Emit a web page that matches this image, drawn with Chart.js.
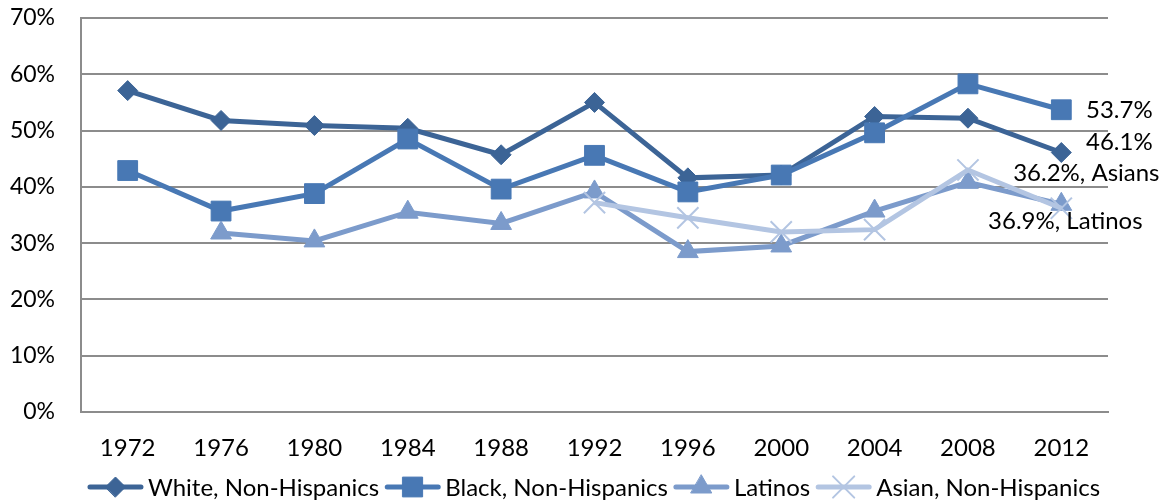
<!DOCTYPE html>
<html>
<head>
<meta charset="utf-8">
<script src="https://cdn.jsdelivr.net/npm/chart.js@4"></script>
<style>
  html, body { margin: 0; padding: 0; background: #ffffff; }
  #wrap { width: 1165px; height: 504px; }
</style>
</head>
<body>
<div id="wrap"><canvas id="chart" width="1165" height="504"></canvas></div>
<script>
// Election years on the category axis
const years = ['1972', '1976', '1980', '1984', '1988', '1992', '1996', '2000', '2004', '2008', '2012'];

// Turnout share (%) per group
const white   = [57.1, 51.8, 50.9, 50.4, 45.7, 55.0, 41.6, 42.1, 52.5, 52.2, 46.1];
const black   = [42.9, 35.7, 38.8, 48.5, 39.6, 45.6, 39.1, 42.1, 49.6, 58.3, 53.7];
const latinos = [null, 31.8, 30.4, 35.5, 33.5, 39.1, 28.5, 29.5, 35.7, 40.8, 36.9];
const asians  = [null, null, null, null, null, 37.2, 34.5, 32.0, 32.4, 43.0, 36.2];

const seriesNames = ['White, Non-Hispanics', 'Black, Non-Hispanics', 'Latinos', 'Asian, Non-Hispanics'];

// Y axis range and tick step (percent)
const yMin = 0;
const yMax = 70;
const yStep = 10;

// End-of-line value labels: series index and text
const endLabelSeries = [1, 0, 3, 2];
const endLabelTexts = ['53.7%', '46.1%', '36.2%, Asians', '36.9%, Latinos'];

const FONT = 'Lato, "Open Sans", sans-serif';
const FONT_SIZE = 23;
const GRID = '#8c8c8c';

const styles = [
  { color: '#3c6496', point: 'rectRot',  radius: 10 },
  { color: '#4878b4', point: 'rect',     radius: 14 },
  { color: '#7c9bcb', point: 'triangle', radius: 12 },
  { color: '#b3c5e2', point: 'crossRot', radius: 15 }
];

const seriesData = [white, black, latinos, asians];

const datasets = seriesData.map((d, i) => ({
  label: seriesNames[i],
  data: d,
  borderColor: styles[i].color,
  backgroundColor: styles[i].color,
  borderWidth: 5,
  pointStyle: styles[i].point,
  pointRadius: styles[i].radius,
  pointHoverRadius: styles[i].radius,
  pointBackgroundColor: styles[i].color,
  pointBorderColor: styles[i].color,
  pointBorderWidth: styles[i].point === 'crossRot' ? 2 : 1,
  tension: 0,
  spanGaps: false,
  fill: false,
  order: seriesData.length - i
}));

// Draws a legend entry sample: short line with the series marker in the middle
function drawSample(ctx, x, y, w, st) {
  ctx.save();
  ctx.strokeStyle = st.color;
  ctx.lineWidth = 5;
  ctx.lineCap = 'round';
  ctx.beginPath();
  ctx.moveTo(x + 2, y);
  ctx.lineTo(x + w - 2, y);
  ctx.stroke();
  ctx.fillStyle = st.color;
  ctx.lineWidth = st.point === 'crossRot' ? 2 : 1;
  Chart.helpers.drawPoint(ctx, { pointStyle: st.point, radius: st.radius, borderWidth: ctx.lineWidth }, x + w / 2, y);
  ctx.restore();
}

const legendPlugin = {
  id: 'bottomLegend',
  afterDraw(chart) {
    const ctx = chart.ctx;
    ctx.save();
    ctx.font = '24px ' + FONT;
    ctx.textBaseline = 'middle';
    ctx.textAlign = 'left';
    const sampleW = 55, textGap = 5, itemGap = 6;
    const widths = seriesNames.map(n => sampleW + textGap + ctx.measureText(n).width);
    const total = widths.reduce((a, b) => a + b, 0) + itemGap * (widths.length - 1);
    let x = 594 - total / 2;
    const y = 487;
    seriesNames.forEach((name, i) => {
      drawSample(ctx, x, y, sampleW, styles[i]);
      ctx.fillStyle = '#000000';
      ctx.fillText(name, x + sampleW + textGap, y + 1);
      x += widths[i] + itemGap;
    });
    ctx.restore();
  }
};

// Offsets (px) of each end label's centre relative to its last data point
const endLabelOffsets = [
  { dx: 58, dy: 1 },
  { dx: 58, dy: -10 },
  { dx: 25, dy: -35 },
  { dx: 4, dy: 17 }
];

const endLabelPlugin = {
  id: 'endLabels',
  afterDatasetsDraw(chart) {
    const ctx = chart.ctx;
    const xs = chart.scales.x, ys = chart.scales.y;
    ctx.save();
    ctx.font = '24px ' + FONT;
    ctx.textBaseline = 'middle';
    ctx.textAlign = 'center';
    ctx.fillStyle = '#000000';
    endLabelSeries.forEach((si, k) => {
      const d = seriesData[si];
      const last = d.length - 1;
      const px = xs.getPixelForValue(last);
      const py = ys.getPixelForValue(d[last]);
      ctx.fillText(endLabelTexts[k], px + endLabelOffsets[k].dx, py + endLabelOffsets[k].dy);
    });
    ctx.restore();
  }
};

new Chart(document.getElementById('chart'), {
  type: 'line',
  data: { labels: years, datasets },
  options: {
    responsive: false,
    devicePixelRatio: 1,
    animation: false,
    layout: { padding: { top: 18, right: 57, left: 0, bottom: 0 } },
    plugins: {
      legend: { display: false },
      tooltip: { enabled: false }
    },
    scales: {
      x: {
        offset: true,
        grid: { display: false, drawTicks: false },
        border: { display: true, color: GRID, width: 2 },
        ticks: { color: '#000000', font: { family: FONT, size: 24 }, padding: 22, maxRotation: 0 },
        afterFit(s) { s.height = 92; s.paddingLeft = 0; s.paddingRight = 0; }
      },
      y: {
        min: yMin,
        max: yMax,
        grid: { color: GRID, lineWidth: 2, drawTicks: false },
        border: { display: true, color: GRID, width: 2 },
        ticks: {
          stepSize: yStep,
          color: '#000000',
          font: { family: FONT, size: FONT_SIZE },
          padding: 26,
          callback: v => v + '%'
        },
        afterFit(s) { s.width = 81; s.paddingTop = 0; s.paddingBottom = 0; }
      }
    }
  },
  plugins: [endLabelPlugin, legendPlugin]
});
</script>
</body>
</html>
